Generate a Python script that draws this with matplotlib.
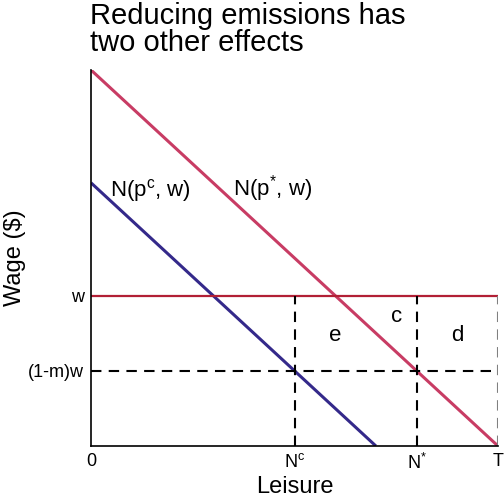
import matplotlib
matplotlib.use("Agg")
import matplotlib.pyplot as plt

plt.rcParams['font.family'] = ['Liberation Sans', 'DejaVu Sans']
plt.rcParams['mathtext.fontset'] = 'custom'
plt.rcParams['mathtext.rm'] = 'Liberation Sans'
plt.rcParams['mathtext.it'] = 'Liberation Sans'

# values (leisure on x, wage on y), T = 1
T = 1.0
N_c = 0.5
N_star = 0.8
w = 0.4
w_low = 0.2          # (1-m)w
int_star = 1.0       # intercept of N(p*, w)
int_c = 0.7          # intercept of N(p^c, w)
slope = -1.0

x_ticks = [0, N_c, N_star, T]
x_labels = ['0', 'N$^{c}$', 'N$^{*}$', 'T']
y_ticks = [w_low, w]
y_labels = ['(1-m)w', 'w']

area_names = ['e', 'c', 'd']
area_x = [0.60, 0.75, 0.90]
area_y = [0.295, 0.345, 0.295]

pink = '#C83C64'
red = '#B21F35'
blue = '#34298A'


def main():
    fig = plt.figure(figsize=(5.04, 5.04), dpi=100)
    ax = fig.add_axes([91 / 504, 58 / 504, 407 / 504, 376 / 504])

    # demand curves
    ax.plot([0, int_star / -slope], [int_star, 0], color=pink, lw=2.2, solid_capstyle='butt')
    ax.plot([0, int_c / -slope], [int_c, 0], color=blue, lw=2.2, solid_capstyle='butt')

    # wage lines
    ax.plot([0, T], [w, w], color=red, lw=1.6)
    ax.plot([0, T], [w_low, w_low], color='black', lw=1.5, ls=(0, (5, 3.5)))

    # verticals
    ax.plot([N_c, N_c], [0, w], color='black', lw=1.5, ls=(0, (5, 3.5)))
    ax.plot([N_star, N_star], [0, w], color='black', lw=1.5, ls=(0, (5, 3.5)))
    ax.plot([T, T], [0, w], color='gray', lw=1.5, ls=(0, (5, 3.5)))

    for name, x, y in zip(area_names, area_x, area_y):
        ax.text(x, y, name, fontsize=16, ha='center', va='center')

    ax.text(0.047, 0.665, 'N(p$^{c}$, w)', fontsize=16, ha='left', va='baseline')
    ax.text(0.350, 0.665, 'N(p$^{*}$, w)', fontsize=16, ha='left', va='baseline')

    ax.set_xlim(0, T)
    ax.set_ylim(0, int_star)
    ax.set_xticks(x_ticks, x_labels, fontsize=13)
    ax.set_yticks(y_ticks, y_labels, fontsize=13)
    ax.tick_params(length=0, pad=5)
    ax.spines['top'].set_visible(False)
    ax.spines['right'].set_visible(False)
    ax.spines['left'].set_linewidth(1.2)
    ax.spines['bottom'].set_linewidth(1.2)

    ax.set_xlabel('Leisure', fontsize=17, labelpad=2)
    fig.text(15 / 504, 1 - 258 / 504, 'Wage ($)', fontsize=17, rotation=90,
             ha='center', va='center')

    fig.text(90 / 504, 1 - 2 / 504, 'Reducing emissions has\ntwo other effects',
             fontsize=21, ha='left', va='top', linespacing=0.95)

    fig.savefig('out.png', dpi=100)


main()
